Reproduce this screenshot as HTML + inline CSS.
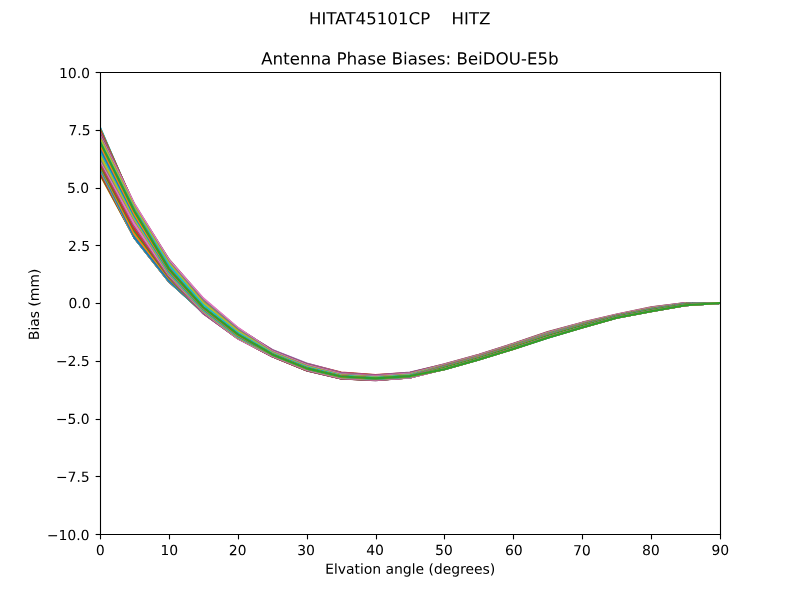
<!DOCTYPE html>
<html><head><meta charset="utf-8"><style>html,body{margin:0;padding:0;background:#fff;overflow:hidden;font-family:"Liberation Sans",sans-serif}svg{display:block}</style></head><body>
<svg width="800" height="600" viewBox="0 0 576 432" version="1.1">
<defs>
<style type="text/css">*{stroke-linejoin: round; stroke-linecap: butt}</style>
</defs>
<g id="figure_1">
<g id="patch_1">
<path d="M 0 432 L 576 432 L 576 0 L 0 0 z
" style="fill: #ffffff"/>
</g>
<g id="axes_1">
<g id="patch_2">
<path d="M 72 384.48 L 518.4 384.48 L 518.4 51.84 L 72 51.84 z
" style="fill: #ffffff"/>
</g>
<g id="matplotlib.axis_1">
<g id="xtick_1">
<g id="line2d_1">
<defs>
<path id="m1504cfccaf" d="M 0 0 L 0 3.5 " style="stroke: #000000; stroke-width: 0.8"/>
</defs>
<g>
<use href="#m1504cfccaf" x="72.3600" y="384.8400" style="stroke: #000000; stroke-width: 0.8"/>
</g>
</g>
<g id="text_1">
<!-- 0 -->
<g transform="translate(69.0347 399.6544) scale(0.1 -0.1)">
<defs>
<path id="DejaVuSans-30" d="M 2034 4250 Q 1547 4250 1301 3770 Q 1056 3291 1056 2328 Q 1056 1369 1301 889 Q 1547 409 2034 409 Q 2525 409 2770 889 Q 3016 1369 3016 2328 Q 3016 3291 2770 3770 Q 2525 4250 2034 4250 z
M 2034 4750 Q 2819 4750 3233 4129 Q 3647 3509 3647 2328 Q 3647 1150 3233 529 Q 2819 -91 2034 -91 Q 1250 -91 836 529 Q 422 1150 422 2328 Q 422 3509 836 4129 Q 1250 4750 2034 4750 z
" transform="scale(0.015625)"/>
</defs>
<use href="#DejaVuSans-30"/>
</g>
</g>
</g>
<g id="xtick_2">
<g id="line2d_2">
<g>
<use href="#m1504cfccaf" x="122.0400" y="384.8400" style="stroke: #000000; stroke-width: 0.8"/>
</g>
</g>
<g id="text_2">
<!-- 10 -->
<g transform="translate(115.5255 399.6544) scale(0.1 -0.1)">
<defs>
<path id="DejaVuSans-31" d="M 794 531 L 1825 531 L 1825 4091 L 703 3866 L 703 4441 L 1819 4666 L 2450 4666 L 2450 531 L 3481 531 L 3481 0 L 794 0 L 794 531 z
" transform="scale(0.015625)"/>
</defs>
<use href="#DejaVuSans-31"/>
<use href="#DejaVuSans-30" transform="translate(63.623047 0)"/>
</g>
</g>
</g>
<g id="xtick_3">
<g id="line2d_3">
<g>
<use href="#m1504cfccaf" x="171.7200" y="384.8400" style="stroke: #000000; stroke-width: 0.8"/>
</g>
</g>
<g id="text_3">
<!-- 20 -->
<g transform="translate(164.7655 399.7264) scale(0.1 -0.1)">
<defs>
<path id="DejaVuSans-32" d="M 1228 531 L 3431 531 L 3431 0 L 469 0 L 469 531 Q 828 903 1448 1529 Q 2069 2156 2228 2338 Q 2531 2678 2651 2914 Q 2772 3150 2772 3378 Q 2772 3750 2511 3984 Q 2250 4219 1831 4219 Q 1534 4219 1204 4116 Q 875 4013 500 3803 L 500 4441 Q 881 4594 1212 4672 Q 1544 4750 1819 4750 Q 2544 4750 2975 4387 Q 3406 4025 3406 3419 Q 3406 3131 3298 2873 Q 3191 2616 2906 2266 Q 2828 2175 2409 1742 Q 1991 1309 1228 531 z
" transform="scale(0.015625)"/>
</defs>
<use href="#DejaVuSans-32"/>
<use href="#DejaVuSans-30" transform="translate(63.623047 0)"/>
</g>
</g>
</g>
<g id="xtick_4">
<g id="line2d_4">
<g>
<use href="#m1504cfccaf" x="221.4000" y="384.8400" style="stroke: #000000; stroke-width: 0.8"/>
</g>
</g>
<g id="text_4">
<!-- 30 -->
<g transform="translate(214.0055 399.6544) scale(0.1 -0.1)">
<defs>
<path id="DejaVuSans-33" d="M 2597 2516 Q 3050 2419 3304 2112 Q 3559 1806 3559 1356 Q 3559 666 3084 287 Q 2609 -91 1734 -91 Q 1441 -91 1130 -33 Q 819 25 488 141 L 488 750 Q 750 597 1062 519 Q 1375 441 1716 441 Q 2309 441 2620 675 Q 2931 909 2931 1356 Q 2931 1769 2642 2001 Q 2353 2234 1838 2234 L 1294 2234 L 1294 2753 L 1863 2753 Q 2328 2753 2575 2939 Q 2822 3125 2822 3475 Q 2822 3834 2567 4026 Q 2313 4219 1838 4219 Q 1578 4219 1281 4162 Q 984 4106 628 3988 L 628 4550 Q 988 4650 1302 4700 Q 1616 4750 1894 4750 Q 2613 4750 3031 4423 Q 3450 4097 3450 3541 Q 3450 3153 3228 2886 Q 3006 2619 2597 2516 z
" transform="scale(0.015625)"/>
</defs>
<use href="#DejaVuSans-33"/>
<use href="#DejaVuSans-30" transform="translate(63.623047 0)"/>
</g>
</g>
</g>
<g id="xtick_5">
<g id="line2d_5">
<g>
<use href="#m1504cfccaf" x="271.0800" y="384.8400" style="stroke: #000000; stroke-width: 0.8"/>
</g>
</g>
<g id="text_5">
<!-- 40 -->
<g transform="translate(263.6775 399.5104) scale(0.1 -0.1)">
<defs>
<path id="DejaVuSans-34" d="M 2419 4116 L 825 1625 L 2419 1625 L 2419 4116 z
M 2253 4666 L 3047 4666 L 3047 1625 L 3713 1625 L 3713 1100 L 3047 1100 L 3047 0 L 2419 0 L 2419 1100 L 313 1100 L 313 1709 L 2253 4666 z
" transform="scale(0.015625)"/>
</defs>
<use href="#DejaVuSans-34"/>
<use href="#DejaVuSans-30" transform="translate(63.623047 0)"/>
</g>
</g>
</g>
<g id="xtick_6">
<g id="line2d_6">
<g>
<use href="#m1504cfccaf" x="320.0400" y="384.8400" style="stroke: #000000; stroke-width: 0.8"/>
</g>
</g>
<g id="text_6">
<!-- 50 -->
<g transform="translate(313.2775 399.5824) scale(0.1 -0.1)">
<defs>
<path id="DejaVuSans-35" d="M 691 4666 L 3169 4666 L 3169 4134 L 1269 4134 L 1269 2991 Q 1406 3038 1543 3061 Q 1681 3084 1819 3084 Q 2600 3084 3056 2656 Q 3513 2228 3513 1497 Q 3513 744 3044 326 Q 2575 -91 1722 -91 Q 1428 -91 1123 -41 Q 819 9 494 109 L 494 744 Q 775 591 1075 516 Q 1375 441 1709 441 Q 2250 441 2565 725 Q 2881 1009 2881 1497 Q 2881 1984 2565 2268 Q 2250 2553 1709 2553 Q 1456 2553 1204 2497 Q 953 2441 691 2322 L 691 4666 z
" transform="scale(0.015625)"/>
</defs>
<use href="#DejaVuSans-35"/>
<use href="#DejaVuSans-30" transform="translate(63.623047 0)"/>
</g>
</g>
</g>
<g id="xtick_7">
<g id="line2d_7">
<g>
<use href="#m1504cfccaf" x="369.7200" y="384.8400" style="stroke: #000000; stroke-width: 0.8"/>
</g>
</g>
<g id="text_7">
<!-- 60 -->
<g transform="translate(363.5975 399.6544) scale(0.1 -0.1)">
<defs>
<path id="DejaVuSans-36" d="M 2113 2584 Q 1688 2584 1439 2293 Q 1191 2003 1191 1497 Q 1191 994 1439 701 Q 1688 409 2113 409 Q 2538 409 2786 701 Q 3034 994 3034 1497 Q 3034 2003 2786 2293 Q 2538 2584 2113 2584 z
M 3366 4563 L 3366 3988 Q 3128 4100 2886 4159 Q 2644 4219 2406 4219 Q 1781 4219 1451 3797 Q 1122 3375 1075 2522 Q 1259 2794 1537 2939 Q 1816 3084 2150 3084 Q 2853 3084 3261 2657 Q 3669 2231 3669 1497 Q 3669 778 3244 343 Q 2819 -91 2113 -91 Q 1303 -91 875 529 Q 447 1150 447 2328 Q 447 3434 972 4092 Q 1497 4750 2381 4750 Q 2619 4750 2861 4703 Q 3103 4656 3366 4563 z
" transform="scale(0.015625)"/>
</defs>
<use href="#DejaVuSans-36"/>
<use href="#DejaVuSans-30" transform="translate(63.623047 0)"/>
</g>
</g>
</g>
<g id="xtick_8">
<g id="line2d_8">
<g>
<use href="#m1504cfccaf" x="419.4000" y="384.8400" style="stroke: #000000; stroke-width: 0.8"/>
</g>
</g>
<g id="text_8">
<!-- 70 -->
<g transform="translate(412.6215 399.7984) scale(0.1 -0.1)">
<defs>
<path id="DejaVuSans-37" d="M 525 4666 L 3525 4666 L 3525 4397 L 1831 0 L 1172 0 L 2766 4134 L 525 4134 L 525 4666 z
" transform="scale(0.015625)"/>
</defs>
<use href="#DejaVuSans-37"/>
<use href="#DejaVuSans-30" transform="translate(63.623047 0)"/>
</g>
</g>
</g>
<g id="xtick_9">
<g id="line2d_9">
<g>
<use href="#m1504cfccaf" x="469.0800" y="384.8400" style="stroke: #000000; stroke-width: 0.8"/>
</g>
</g>
<g id="text_9">
<!-- 80 -->
<g transform="translate(462.2935 399.6544) scale(0.1 -0.1)">
<defs>
<path id="DejaVuSans-38" d="M 2034 2216 Q 1584 2216 1326 1975 Q 1069 1734 1069 1313 Q 1069 891 1326 650 Q 1584 409 2034 409 Q 2484 409 2743 651 Q 3003 894 3003 1313 Q 3003 1734 2745 1975 Q 2488 2216 2034 2216 z
M 1403 2484 Q 997 2584 770 2862 Q 544 3141 544 3541 Q 544 4100 942 4425 Q 1341 4750 2034 4750 Q 2731 4750 3128 4425 Q 3525 4100 3525 3541 Q 3525 3141 3298 2862 Q 3072 2584 2669 2484 Q 3125 2378 3379 2068 Q 3634 1759 3634 1313 Q 3634 634 3220 271 Q 2806 -91 2034 -91 Q 1263 -91 848 271 Q 434 634 434 1313 Q 434 1759 690 2068 Q 947 2378 1403 2484 z
M 1172 3481 Q 1172 3119 1398 2916 Q 1625 2713 2034 2713 Q 2441 2713 2670 2916 Q 2900 3119 2900 3481 Q 2900 3844 2670 4047 Q 2441 4250 2034 4250 Q 1625 4250 1398 4047 Q 1172 3844 1172 3481 z
" transform="scale(0.015625)"/>
</defs>
<use href="#DejaVuSans-38"/>
<use href="#DejaVuSans-30" transform="translate(63.623047 0)"/>
</g>
</g>
</g>
<g id="xtick_10">
<g id="line2d_10">
<g>
<use href="#m1504cfccaf" x="518.7600" y="384.8400" style="stroke: #000000; stroke-width: 0.8"/>
</g>
</g>
<g id="text_10">
<!-- 90 -->
<g transform="translate(512.2535 399.5824) scale(0.1 -0.1)">
<defs>
<path id="DejaVuSans-39" d="M 703 97 L 703 672 Q 941 559 1184 500 Q 1428 441 1663 441 Q 2288 441 2617 861 Q 2947 1281 2994 2138 Q 2813 1869 2534 1725 Q 2256 1581 1919 1581 Q 1219 1581 811 2004 Q 403 2428 403 3163 Q 403 3881 828 4315 Q 1253 4750 1959 4750 Q 2769 4750 3195 4129 Q 3622 3509 3622 2328 Q 3622 1225 3098 567 Q 2575 -91 1691 -91 Q 1453 -91 1209 -44 Q 966 3 703 97 z
M 1959 2075 Q 2384 2075 2632 2365 Q 2881 2656 2881 3163 Q 2881 3666 2632 3958 Q 2384 4250 1959 4250 Q 1534 4250 1286 3958 Q 1038 3666 1038 3163 Q 1038 2656 1286 2365 Q 1534 2075 1959 2075 z
" transform="scale(0.015625)"/>
</defs>
<use href="#DejaVuSans-39"/>
<use href="#DejaVuSans-30" transform="translate(63.623047 0)"/>
</g>
</g>
</g>
<g id="text_11">
<!-- Elvation angle (degrees) -->
<g transform="translate(234.1167 413.1166) scale(0.1 -0.1)">
<defs>
<path id="DejaVuSans-45" d="M 628 4666 L 3578 4666 L 3578 4134 L 1259 4134 L 1259 2753 L 3481 2753 L 3481 2222 L 1259 2222 L 1259 531 L 3634 531 L 3634 0 L 628 0 L 628 4666 z
" transform="scale(0.015625)"/>
<path id="DejaVuSans-6c" d="M 603 4863 L 1178 4863 L 1178 0 L 603 0 L 603 4863 z
" transform="scale(0.015625)"/>
<path id="DejaVuSans-76" d="M 191 3500 L 800 3500 L 1894 563 L 2988 3500 L 3597 3500 L 2284 0 L 1503 0 L 191 3500 z
" transform="scale(0.015625)"/>
<path id="DejaVuSans-61" d="M 2194 1759 Q 1497 1759 1228 1600 Q 959 1441 959 1056 Q 959 750 1161 570 Q 1363 391 1709 391 Q 2188 391 2477 730 Q 2766 1069 2766 1631 L 2766 1759 L 2194 1759 z
M 3341 1997 L 3341 0 L 2766 0 L 2766 531 Q 2569 213 2275 61 Q 1981 -91 1556 -91 Q 1019 -91 701 211 Q 384 513 384 1019 Q 384 1609 779 1909 Q 1175 2209 1959 2209 L 2766 2209 L 2766 2266 Q 2766 2663 2505 2880 Q 2244 3097 1772 3097 Q 1472 3097 1187 3025 Q 903 2953 641 2809 L 641 3341 Q 956 3463 1253 3523 Q 1550 3584 1831 3584 Q 2591 3584 2966 3190 Q 3341 2797 3341 1997 z
" transform="scale(0.015625)"/>
<path id="DejaVuSans-74" d="M 1172 4494 L 1172 3500 L 2356 3500 L 2356 3053 L 1172 3053 L 1172 1153 Q 1172 725 1289 603 Q 1406 481 1766 481 L 2356 481 L 2356 0 L 1766 0 Q 1100 0 847 248 Q 594 497 594 1153 L 594 3053 L 172 3053 L 172 3500 L 594 3500 L 594 4494 L 1172 4494 z
" transform="scale(0.015625)"/>
<path id="DejaVuSans-69" d="M 603 3500 L 1178 3500 L 1178 0 L 603 0 L 603 3500 z
M 603 4863 L 1178 4863 L 1178 4134 L 603 4134 L 603 4863 z
" transform="scale(0.015625)"/>
<path id="DejaVuSans-6f" d="M 1959 3097 Q 1497 3097 1228 2736 Q 959 2375 959 1747 Q 959 1119 1226 758 Q 1494 397 1959 397 Q 2419 397 2687 759 Q 2956 1122 2956 1747 Q 2956 2369 2687 2733 Q 2419 3097 1959 3097 z
M 1959 3584 Q 2709 3584 3137 3096 Q 3566 2609 3566 1747 Q 3566 888 3137 398 Q 2709 -91 1959 -91 Q 1206 -91 779 398 Q 353 888 353 1747 Q 353 2609 779 3096 Q 1206 3584 1959 3584 z
" transform="scale(0.015625)"/>
<path id="DejaVuSans-6e" d="M 3513 2113 L 3513 0 L 2938 0 L 2938 2094 Q 2938 2591 2744 2837 Q 2550 3084 2163 3084 Q 1697 3084 1428 2787 Q 1159 2491 1159 1978 L 1159 0 L 581 0 L 581 3500 L 1159 3500 L 1159 2956 Q 1366 3272 1645 3428 Q 1925 3584 2291 3584 Q 2894 3584 3203 3211 Q 3513 2838 3513 2113 z
" transform="scale(0.015625)"/>
<path id="DejaVuSans-20" transform="scale(0.015625)"/>
<path id="DejaVuSans-67" d="M 2906 1791 Q 2906 2416 2648 2759 Q 2391 3103 1925 3103 Q 1463 3103 1205 2759 Q 947 2416 947 1791 Q 947 1169 1205 825 Q 1463 481 1925 481 Q 2391 481 2648 825 Q 2906 1169 2906 1791 z
M 3481 434 Q 3481 -459 3084 -895 Q 2688 -1331 1869 -1331 Q 1566 -1331 1297 -1286 Q 1028 -1241 775 -1147 L 775 -588 Q 1028 -725 1275 -790 Q 1522 -856 1778 -856 Q 2344 -856 2625 -561 Q 2906 -266 2906 331 L 2906 616 Q 2728 306 2450 153 Q 2172 0 1784 0 Q 1141 0 747 490 Q 353 981 353 1791 Q 353 2603 747 3093 Q 1141 3584 1784 3584 Q 2172 3584 2450 3431 Q 2728 3278 2906 2969 L 2906 3500 L 3481 3500 L 3481 434 z
" transform="scale(0.015625)"/>
<path id="DejaVuSans-65" d="M 3597 1894 L 3597 1613 L 953 1613 Q 991 1019 1311 708 Q 1631 397 2203 397 Q 2534 397 2845 478 Q 3156 559 3463 722 L 3463 178 Q 3153 47 2828 -22 Q 2503 -91 2169 -91 Q 1331 -91 842 396 Q 353 884 353 1716 Q 353 2575 817 3079 Q 1281 3584 2069 3584 Q 2775 3584 3186 3129 Q 3597 2675 3597 1894 z
M 3022 2063 Q 3016 2534 2758 2815 Q 2500 3097 2075 3097 Q 1594 3097 1305 2825 Q 1016 2553 972 2059 L 3022 2063 z
" transform="scale(0.015625)"/>
<path id="DejaVuSans-28" d="M 1984 4856 Q 1566 4138 1362 3434 Q 1159 2731 1159 2009 Q 1159 1288 1364 580 Q 1569 -128 1984 -844 L 1484 -844 Q 1016 -109 783 600 Q 550 1309 550 2009 Q 550 2706 781 3412 Q 1013 4119 1484 4856 L 1984 4856 z
" transform="scale(0.015625)"/>
<path id="DejaVuSans-64" d="M 2906 2969 L 2906 4863 L 3481 4863 L 3481 0 L 2906 0 L 2906 525 Q 2725 213 2448 61 Q 2172 -91 1784 -91 Q 1150 -91 751 415 Q 353 922 353 1747 Q 353 2572 751 3078 Q 1150 3584 1784 3584 Q 2172 3584 2448 3432 Q 2725 3281 2906 2969 z
M 947 1747 Q 947 1113 1208 752 Q 1469 391 1925 391 Q 2381 391 2643 752 Q 2906 1113 2906 1747 Q 2906 2381 2643 2742 Q 2381 3103 1925 3103 Q 1469 3103 1208 2742 Q 947 2381 947 1747 z
" transform="scale(0.015625)"/>
<path id="DejaVuSans-72" d="M 2631 2963 Q 2534 3019 2420 3045 Q 2306 3072 2169 3072 Q 1681 3072 1420 2755 Q 1159 2438 1159 1844 L 1159 0 L 581 0 L 581 3500 L 1159 3500 L 1159 2956 Q 1341 3275 1631 3429 Q 1922 3584 2338 3584 Q 2397 3584 2469 3576 Q 2541 3569 2628 3553 L 2631 2963 z
" transform="scale(0.015625)"/>
<path id="DejaVuSans-73" d="M 2834 3397 L 2834 2853 Q 2591 2978 2328 3040 Q 2066 3103 1784 3103 Q 1356 3103 1142 2972 Q 928 2841 928 2578 Q 928 2378 1081 2264 Q 1234 2150 1697 2047 L 1894 2003 Q 2506 1872 2764 1633 Q 3022 1394 3022 966 Q 3022 478 2636 193 Q 2250 -91 1575 -91 Q 1294 -91 989 -36 Q 684 19 347 128 L 347 722 Q 666 556 975 473 Q 1284 391 1588 391 Q 1994 391 2212 530 Q 2431 669 2431 922 Q 2431 1156 2273 1281 Q 2116 1406 1581 1522 L 1381 1569 Q 847 1681 609 1914 Q 372 2147 372 2553 Q 372 3047 722 3315 Q 1072 3584 1716 3584 Q 2034 3584 2315 3537 Q 2597 3491 2834 3397 z
" transform="scale(0.015625)"/>
<path id="DejaVuSans-29" d="M 513 4856 L 1013 4856 Q 1481 4119 1714 3412 Q 1947 2706 1947 2009 Q 1947 1309 1714 600 Q 1481 -109 1013 -844 L 513 -844 Q 928 -128 1133 580 Q 1338 1288 1338 2009 Q 1338 2731 1133 3434 Q 928 4138 513 4856 z
" transform="scale(0.015625)"/>
</defs>
<use href="#DejaVuSans-45"/>
<use href="#DejaVuSans-6c" transform="translate(63.183594 0)"/>
<use href="#DejaVuSans-76" transform="translate(90.966797 0)"/>
<use href="#DejaVuSans-61" transform="translate(150.146484 0)"/>
<use href="#DejaVuSans-74" transform="translate(211.425781 0)"/>
<use href="#DejaVuSans-69" transform="translate(250.634766 0)"/>
<use href="#DejaVuSans-6f" transform="translate(278.417969 0)"/>
<use href="#DejaVuSans-6e" transform="translate(339.599609 0)"/>
<use href="#DejaVuSans-20" transform="translate(402.978516 0)"/>
<use href="#DejaVuSans-61" transform="translate(434.765625 0)"/>
<use href="#DejaVuSans-6e" transform="translate(496.044922 0)"/>
<use href="#DejaVuSans-67" transform="translate(559.423828 0)"/>
<use href="#DejaVuSans-6c" transform="translate(622.900391 0)"/>
<use href="#DejaVuSans-65" transform="translate(650.683594 0)"/>
<use href="#DejaVuSans-20" transform="translate(712.207031 0)"/>
<use href="#DejaVuSans-28" transform="translate(743.994141 0)"/>
<use href="#DejaVuSans-64" transform="translate(783.007812 0)"/>
<use href="#DejaVuSans-65" transform="translate(846.484375 0)"/>
<use href="#DejaVuSans-67" transform="translate(908.007812 0)"/>
<use href="#DejaVuSans-72" transform="translate(971.484375 0)"/>
<use href="#DejaVuSans-65" transform="translate(1010.347656 0)"/>
<use href="#DejaVuSans-65" transform="translate(1071.871094 0)"/>
<use href="#DejaVuSans-73" transform="translate(1133.394531 0)"/>
<use href="#DejaVuSans-29" transform="translate(1185.494141 0)"/>
</g>
</g>
</g>
<g id="matplotlib.axis_2">
<g id="ytick_1">
<g id="line2d_11">
<defs>
<path id="m5d545ce8f8" d="M 0 0 L -3.5 0 " style="stroke: #000000; stroke-width: 0.8"/>
</defs>
<g>
<use href="#m5d545ce8f8" x="72.3600" y="384.8400" style="stroke: #000000; stroke-width: 0.8"/>
</g>
</g>
<g id="text_12">
<!-- −10.0 -->
<g transform="translate(33.7787 388.8552) scale(0.1 -0.1)">
<defs>
<path id="DejaVuSans-2212" d="M 678 2272 L 4684 2272 L 4684 1741 L 678 1741 L 678 2272 z
" transform="scale(0.015625)"/>
<path id="DejaVuSans-2e" d="M 684 794 L 1344 794 L 1344 0 L 684 0 L 684 794 z
" transform="scale(0.015625)"/>
</defs>
<use href="#DejaVuSans-2212"/>
<use href="#DejaVuSans-31" transform="translate(83.789062 0)"/>
<use href="#DejaVuSans-30" transform="translate(147.412109 0)"/>
<use href="#DejaVuSans-2e" transform="translate(211.035156 0)"/>
<use href="#DejaVuSans-30" transform="translate(242.822266 0)"/>
</g>
</g>
</g>
<g id="ytick_2">
<g id="line2d_12">
<g>
<use href="#m5d545ce8f8" x="72.3600" y="343.0800" style="stroke: #000000; stroke-width: 0.8"/>
</g>
</g>
<g id="text_13">
<!-- −7.5 -->
<g transform="translate(40.2852 346.9152) scale(0.1 -0.1)">
<use href="#DejaVuSans-2212"/>
<use href="#DejaVuSans-37" transform="translate(83.789062 0)"/>
<use href="#DejaVuSans-2e" transform="translate(147.412109 0)"/>
<use href="#DejaVuSans-35" transform="translate(179.199219 0)"/>
</g>
</g>
</g>
<g id="ytick_3">
<g id="line2d_13">
<g>
<use href="#m5d545ce8f8" x="72.3600" y="302.0400" style="stroke: #000000; stroke-width: 0.8"/>
</g>
</g>
<g id="text_14">
<!-- −5.0 -->
<g transform="translate(40.2132 305.1912) scale(0.1 -0.1)">
<use href="#DejaVuSans-2212"/>
<use href="#DejaVuSans-35" transform="translate(83.789062 0)"/>
<use href="#DejaVuSans-2e" transform="translate(147.412109 0)"/>
<use href="#DejaVuSans-30" transform="translate(179.199219 0)"/>
</g>
</g>
</g>
<g id="ytick_4">
<g id="line2d_14">
<g>
<use href="#m5d545ce8f8" x="72.3600" y="260.2800" style="stroke: #000000; stroke-width: 0.8"/>
</g>
</g>
<g id="text_15">
<!-- −2.5 -->
<g transform="translate(40.2852 263.5392) scale(0.1 -0.1)">
<use href="#DejaVuSans-2212"/>
<use href="#DejaVuSans-32" transform="translate(83.789062 0)"/>
<use href="#DejaVuSans-2e" transform="translate(147.412109 0)"/>
<use href="#DejaVuSans-35" transform="translate(179.199219 0)"/>
</g>
</g>
</g>
<g id="ytick_5">
<g id="line2d_15">
<g>
<use href="#m5d545ce8f8" x="72.3600" y="218.5200" style="stroke: #000000; stroke-width: 0.8"/>
</g>
</g>
<g id="text_16">
<!-- 0.0 -->
<g transform="translate(49.3129 221.8152) scale(0.1 -0.1)">
<use href="#DejaVuSans-30"/>
<use href="#DejaVuSans-2e" transform="translate(63.623047 0)"/>
<use href="#DejaVuSans-30" transform="translate(95.410156 0)"/>
</g>
</g>
</g>
<g id="ytick_6">
<g id="line2d_16">
<g>
<use href="#m5d545ce8f8" x="72.3600" y="176.7600" style="stroke: #000000; stroke-width: 0.8"/>
</g>
</g>
<g id="text_17">
<!-- 2.5 -->
<g transform="translate(48.9529 180.7392) scale(0.1 -0.1)">
<use href="#DejaVuSans-32"/>
<use href="#DejaVuSans-2e" transform="translate(63.623047 0)"/>
<use href="#DejaVuSans-35" transform="translate(95.410156 0)"/>
</g>
</g>
</g>
<g id="ytick_7">
<g id="line2d_17">
<g>
<use href="#m5d545ce8f8" x="72.3600" y="135.7200" style="stroke: #000000; stroke-width: 0.8"/>
</g>
</g>
<g id="text_18">
<!-- 5.0 -->
<g transform="translate(48.2329 138.8712) scale(0.1 -0.1)">
<use href="#DejaVuSans-35"/>
<use href="#DejaVuSans-2e" transform="translate(63.623047 0)"/>
<use href="#DejaVuSans-30" transform="translate(95.410156 0)"/>
</g>
</g>
</g>
<g id="ytick_8">
<g id="line2d_18">
<g>
<use href="#m5d545ce8f8" x="72.3600" y="93.9600" style="stroke: #000000; stroke-width: 0.8"/>
</g>
</g>
<g id="text_19">
<!-- 7.5 -->
<g transform="translate(49.3129 97.2912) scale(0.1 -0.1)">
<use href="#DejaVuSans-37"/>
<use href="#DejaVuSans-2e" transform="translate(63.623047 0)"/>
<use href="#DejaVuSans-35" transform="translate(95.410156 0)"/>
</g>
</g>
</g>
<g id="ytick_9">
<g id="line2d_19">
<g>
<use href="#m5d545ce8f8" x="72.3600" y="52.2000" style="stroke: #000000; stroke-width: 0.8"/>
</g>
</g>
<g id="text_20">
<!-- 10.0 -->
<g transform="translate(42.5184 56.2152) scale(0.1 -0.1)">
<use href="#DejaVuSans-31"/>
<use href="#DejaVuSans-30" transform="translate(63.623047 0)"/>
<use href="#DejaVuSans-2e" transform="translate(127.246094 0)"/>
<use href="#DejaVuSans-30" transform="translate(159.033203 0)"/>
</g>
</g>
</g>
<g id="text_21">
<!-- Bias (mm) -->
<g transform="translate(27.9870 244.8875) rotate(-90) scale(0.1 -0.1)">
<defs>
<path id="DejaVuSans-42" d="M 1259 2228 L 1259 519 L 2272 519 Q 2781 519 3026 730 Q 3272 941 3272 1375 Q 3272 1813 3026 2020 Q 2781 2228 2272 2228 L 1259 2228 z
M 1259 4147 L 1259 2741 L 2194 2741 Q 2656 2741 2882 2914 Q 3109 3088 3109 3444 Q 3109 3797 2882 3972 Q 2656 4147 2194 4147 L 1259 4147 z
M 628 4666 L 2241 4666 Q 2963 4666 3353 4366 Q 3744 4066 3744 3513 Q 3744 3084 3544 2831 Q 3344 2578 2956 2516 Q 3422 2416 3680 2098 Q 3938 1781 3938 1306 Q 3938 681 3513 340 Q 3088 0 2303 0 L 628 0 L 628 4666 z
" transform="scale(0.015625)"/>
<path id="DejaVuSans-6d" d="M 3328 2828 Q 3544 3216 3844 3400 Q 4144 3584 4550 3584 Q 5097 3584 5394 3201 Q 5691 2819 5691 2113 L 5691 0 L 5113 0 L 5113 2094 Q 5113 2597 4934 2840 Q 4756 3084 4391 3084 Q 3944 3084 3684 2787 Q 3425 2491 3425 1978 L 3425 0 L 2847 0 L 2847 2094 Q 2847 2600 2669 2842 Q 2491 3084 2119 3084 Q 1678 3084 1418 2786 Q 1159 2488 1159 1978 L 1159 0 L 581 0 L 581 3500 L 1159 3500 L 1159 2956 Q 1356 3278 1631 3431 Q 1906 3584 2284 3584 Q 2666 3584 2933 3390 Q 3200 3197 3328 2828 z
" transform="scale(0.015625)"/>
</defs>
<use href="#DejaVuSans-42"/>
<use href="#DejaVuSans-69" transform="translate(68.603516 0)"/>
<use href="#DejaVuSans-61" transform="translate(96.386719 0)"/>
<use href="#DejaVuSans-73" transform="translate(157.666016 0)"/>
<use href="#DejaVuSans-20" transform="translate(209.765625 0)"/>
<use href="#DejaVuSans-28" transform="translate(241.552734 0)"/>
<use href="#DejaVuSans-6d" transform="translate(280.566406 0)"/>
<use href="#DejaVuSans-6d" transform="translate(377.978516 0)"/>
<use href="#DejaVuSans-29" transform="translate(475.390625 0)"/>
</g>
</g>
</g>
<g id="line2d_20">
<path d="M 72 102.143314 L 96.8 152.225358 L 121.6 193.755312 L 146.4 221.369976 L 171.2 240.751246 L 196 255.182832 L 220.8 265.22856 L 245.6 271.033128 L 270.4 272.430216 L 295.2 270.783648 L 320 265.89384 L 344.8 258.9084 L 369.6 251.25768 L 394.4 243.108 L 419.2 235.78992 L 444 228.80448 L 468.8 224.14752 L 493.6 219.8232 L 518.4 218.16 " clip-path="url(#p4308238263)" style="fill: none; stroke: #1f77b4; stroke-width: 1.5; stroke-linecap: square"/>
</g>
<g id="line2d_21">
<path d="M 72 100.758446 L 96.8 151.569068 L 121.6 193.067856 L 146.4 220.961452 L 171.2 240.451558 L 196 254.949984 L 220.8 264.97908 L 245.6 270.816912 L 270.4 272.247264 L 295.2 270.600696 L 320 265.649904 L 344.8 258.675552 L 369.6 251.002656 L 394.4 242.841888 L 419.2 235.557072 L 444 228.649248 L 468.8 223.959024 L 493.6 219.71232 L 518.4 218.16 " clip-path="url(#p4308238263)" style="fill: none; stroke: #ff7f0e; stroke-width: 1.5; stroke-linecap: square"/>
</g>
<g id="line2d_22">
<path d="M 72 99.620875 L 96.8 151.264362 L 121.6 192.62592 L 146.4 220.552929 L 171.2 240.15187 L 196 254.717136 L 220.8 264.7296 L 245.6 270.600696 L 270.4 272.064312 L 295.2 270.417744 L 320 265.405968 L 344.8 258.442704 L 369.6 250.747632 L 394.4 242.575776 L 419.2 235.324224 L 444 228.494016 L 468.8 223.770528 L 493.6 219.60144 L 518.4 218.16 " clip-path="url(#p4308238263)" style="fill: none; stroke: #2ca02c; stroke-width: 1.5; stroke-linecap: square"/>
</g>
<g id="line2d_23">
<path d="M 72 98.483304 L 96.8 150.959656 L 121.6 192.183984 L 146.4 220.144405 L 171.2 239.852182 L 196 254.484288 L 220.8 264.48012 L 245.6 270.38448 L 270.4 271.88136 L 295.2 270.234792 L 320 265.162032 L 344.8 258.209856 L 369.6 250.492608 L 394.4 242.309664 L 419.2 235.091376 L 444 228.338784 L 468.8 223.582032 L 493.6 219.49056 L 518.4 218.16 " clip-path="url(#p4308238263)" style="fill: none; stroke: #d62728; stroke-width: 1.5; stroke-linecap: square"/>
</g>
<g id="line2d_24">
<path d="M 72 97.345734 L 96.8 150.65495 L 121.6 191.742048 L 146.4 219.735882 L 171.2 239.552494 L 196 254.25144 L 220.8 264.23064 L 245.6 270.168264 L 270.4 271.698408 L 295.2 270.05184 L 320 264.918096 L 344.8 257.977008 L 369.6 250.237584 L 394.4 242.043552 L 419.2 234.858528 L 444 228.183552 L 468.8 223.393536 L 493.6 219.37968 L 518.4 218.16 " clip-path="url(#p4308238263)" style="fill: none; stroke: #9467bd; stroke-width: 1.5; stroke-linecap: square"/>
</g>
<g id="line2d_25">
<path d="M 72 96.208163 L 96.8 150.350244 L 121.6 191.300112 L 146.4 219.327358 L 171.2 239.252806 L 196 254.018592 L 220.8 263.98116 L 245.6 269.952048 L 270.4 271.515456 L 295.2 269.868888 L 320 264.67416 L 344.8 257.74416 L 369.6 249.98256 L 394.4 241.77744 L 419.2 234.62568 L 444 228.02832 L 468.8 223.20504 L 493.6 219.2688 L 518.4 218.16 " clip-path="url(#p4308238263)" style="fill: none; stroke: #8c564b; stroke-width: 1.5; stroke-linecap: square"/>
</g>
<g id="line2d_26">
<path d="M 72 95.070593 L 96.8 150.045538 L 121.6 190.858176 L 146.4 218.918835 L 171.2 238.953118 L 196 253.785744 L 220.8 263.73168 L 245.6 269.735832 L 270.4 271.332504 L 295.2 269.685936 L 320 264.430224 L 344.8 257.511312 L 369.6 249.727536 L 394.4 241.511328 L 419.2 234.392832 L 444 227.873088 L 468.8 223.016544 L 493.6 219.15792 L 518.4 218.16 " clip-path="url(#p4308238263)" style="fill: none; stroke: #e377c2; stroke-width: 1.5; stroke-linecap: square"/>
</g>
<g id="line2d_27">
<path d="M 72 93.933022 L 96.8 149.740832 L 121.6 190.41624 L 146.4 218.510311 L 171.2 238.653431 L 196 253.552896 L 220.8 263.4822 L 245.6 269.519616 L 270.4 271.149552 L 295.2 269.502984 L 320 264.186288 L 344.8 257.278464 L 369.6 249.472512 L 394.4 241.245216 L 419.2 234.159984 L 444 227.717856 L 468.8 222.828048 L 493.6 219.04704 L 518.4 218.16 " clip-path="url(#p4308238263)" style="fill: none; stroke: #7f7f7f; stroke-width: 1.5; stroke-linecap: square"/>
</g>
<g id="line2d_28">
<path d="M 72 92.795451 L 96.8 149.436126 L 121.6 189.974304 L 146.4 218.101788 L 171.2 238.353743 L 196 253.320048 L 220.8 263.23272 L 245.6 269.3034 L 270.4 270.9666 L 295.2 269.320032 L 320 263.942352 L 344.8 257.045616 L 369.6 249.217488 L 394.4 240.979104 L 419.2 233.927136 L 444 227.562624 L 468.8 222.639552 L 493.6 218.93616 L 518.4 218.16 " clip-path="url(#p4308238263)" style="fill: none; stroke: #bcbd22; stroke-width: 1.5; stroke-linecap: square"/>
</g>
<g id="line2d_29">
<path d="M 72 91.7568 L 96.8 149.131421 L 121.6 189.532368 L 146.4 217.693264 L 171.2 238.054055 L 196 253.0872 L 220.8 262.98324 L 245.6 269.087184 L 270.4 270.783648 L 295.2 269.13708 L 320 263.698416 L 344.8 256.812768 L 369.6 248.962464 L 394.4 240.712992 L 419.2 233.694288 L 444 227.407392 L 468.8 222.451056 L 493.6 218.82528 L 518.4 218.16 " clip-path="url(#p4308238263)" style="fill: none; stroke: #17becf; stroke-width: 1.5; stroke-linecap: square"/>
</g>
<g id="line2d_30">
<path d="M 72 92.310747 L 96.8 148.826715 L 121.6 189.090432 L 146.4 217.284741 L 171.2 237.754367 L 196 252.854352 L 220.8 262.73376 L 245.6 268.870968 L 270.4 270.600696 L 295.2 268.954128 L 320 263.45448 L 344.8 256.57992 L 369.6 248.70744 L 394.4 240.44688 L 419.2 233.46144 L 444 227.25216 L 468.8 222.26256 L 493.6 218.7144 L 518.4 218.16 " clip-path="url(#p4308238263)" style="fill: none; stroke: #1f77b4; stroke-width: 1.5; stroke-linecap: square"/>
</g>
<g id="line2d_31">
<path d="M 72 92.864695 L 96.8 148.522009 L 121.6 188.648496 L 146.4 216.876217 L 171.2 237.454679 L 196 252.621504 L 220.8 262.48428 L 245.6 268.654752 L 270.4 270.417744 L 295.2 268.771176 L 320 263.210544 L 344.8 256.347072 L 369.6 248.452416 L 394.4 240.180768 L 419.2 233.228592 L 444 227.096928 L 468.8 222.074064 L 493.6 218.60352 L 518.4 218.16 " clip-path="url(#p4308238263)" style="fill: none; stroke: #ff7f0e; stroke-width: 1.5; stroke-linecap: square"/>
</g>
<g id="line2d_32">
<path d="M 72 93.418642 L 96.8 148.217303 L 121.6 188.20656 L 146.4 216.467694 L 171.2 237.154991 L 196 252.388656 L 220.8 262.2348 L 245.6 268.438536 L 270.4 270.234792 L 295.2 268.588224 L 320 262.966608 L 344.8 256.114224 L 369.6 248.197392 L 394.4 239.914656 L 419.2 232.995744 L 444 226.941696 L 468.8 221.885568 L 493.6 218.49264 L 518.4 218.16 " clip-path="url(#p4308238263)" style="fill: none; stroke: #2ca02c; stroke-width: 1.5; stroke-linecap: square"/>
</g>
<g id="line2d_33">
<path d="M 72 94.18032 L 96.8 147.912597 L 121.6 187.764624 L 146.4 216.05917 L 171.2 236.855304 L 196 252.155808 L 220.8 261.98532 L 245.6 268.22232 L 270.4 270.05184 L 295.2 268.405272 L 320 262.722672 L 344.8 255.881376 L 369.6 247.942368 L 394.4 239.648544 L 419.2 232.762896 L 444 226.786464 L 468.8 221.697072 L 493.6 218.38176 L 518.4 218.16 " clip-path="url(#p4308238263)" style="fill: none; stroke: #d62728; stroke-width: 1.5; stroke-linecap: square"/>
</g>
<g id="line2d_34">
<path d="M 72 95.426702 L 96.8 147.607891 L 121.6 187.322688 L 146.4 215.650647 L 171.2 236.555616 L 196 251.92296 L 220.8 261.73584 L 245.6 268.602159 L 270.4 270.373242 L 295.2 268.22232 L 320 262.478736 L 344.8 255.648528 L 369.6 247.687344 L 394.4 239.382432 L 419.2 232.530048 L 444 226.631232 L 468.8 221.508576 L 493.6 218.27088 L 518.4 218.16 " clip-path="url(#p4308238263)" style="fill: none; stroke: #9467bd; stroke-width: 1.5; stroke-linecap: square"/>
</g>
<g id="line2d_35">
<path d="M 72 96.465353 L 96.8 147.303185 L 121.6 186.880752 L 146.4 215.242123 L 171.2 236.255928 L 196 252.432315 L 220.8 262.281577 L 245.6 268.981998 L 270.4 270.694644 L 295.2 268.622527 L 320 262.2348 L 344.8 255.41568 L 369.6 247.43232 L 394.4 239.11632 L 419.2 232.2972 L 444 226.476 L 468.8 221.32008 L 493.6 218.16 L 518.4 218.16 " clip-path="url(#p4308238263)" style="fill: none; stroke: #8c564b; stroke-width: 1.5; stroke-linecap: square"/>
</g>
<g id="line2d_36">
<path d="M 72 97.642491 L 96.8 146.97504 L 121.6 187.22448 L 146.4 214.8336 L 171.2 235.95624 L 196 252.94167 L 220.8 262.827315 L 245.6 269.361837 L 270.4 271.016046 L 295.2 269.022735 L 320 262.600704 L 344.8 255.764952 L 369.6 247.814856 L 394.4 239.515488 L 419.2 232.646472 L 444 226.708848 L 468.8 221.602824 L 493.6 218.32632 L 518.4 218.16 " clip-path="url(#p4308238263)" style="fill: none; stroke: #e377c2; stroke-width: 1.5; stroke-linecap: square"/>
</g>
<g id="line2d_37">
<path d="M 72 98.681143 L 96.8 148.943909 L 121.6 188.599392 L 146.4 216.467694 L 171.2 237.154991 L 196 253.451025 L 220.8 263.373052 L 245.6 269.741676 L 270.4 271.337449 L 295.2 269.422942 L 320 262.966608 L 344.8 256.114224 L 369.6 248.197392 L 394.4 239.914656 L 419.2 232.995744 L 444 226.941696 L 468.8 221.885568 L 493.6 218.49264 L 518.4 218.16 " clip-path="url(#p4308238263)" style="fill: none; stroke: #7f7f7f; stroke-width: 1.5; stroke-linecap: square"/>
</g>
<g id="line2d_38">
<path d="M 72 99.719794 L 96.8 149.272054 L 121.6 189.630576 L 146.4 218.101788 L 171.2 238.353743 L 196 253.96038 L 220.8 263.91879 L 245.6 270.121515 L 270.4 271.658851 L 295.2 269.82315 L 320 263.332512 L 344.8 256.463496 L 369.6 248.579928 L 394.4 240.313824 L 419.2 233.345016 L 444 227.174544 L 468.8 222.168312 L 493.6 218.65896 L 518.4 218.16 " clip-path="url(#p4308238263)" style="fill: none; stroke: #bcbd22; stroke-width: 1.5; stroke-linecap: square"/>
</g>
<g id="line2d_39">
<path d="M 72 101.797097 L 96.8 150.912778 L 121.6 191.005488 L 146.4 219.735882 L 171.2 239.552494 L 196 254.469735 L 220.8 264.464527 L 245.6 270.501354 L 270.4 271.980253 L 295.2 270.223357 L 320 263.698416 L 344.8 256.812768 L 369.6 248.962464 L 394.4 240.712992 L 419.2 233.694288 L 444 227.407392 L 468.8 222.451056 L 493.6 218.82528 L 518.4 218.16 " clip-path="url(#p4308238263)" style="fill: none; stroke: #17becf; stroke-width: 1.5; stroke-linecap: square"/>
</g>
<g id="line2d_40">
<path d="M 72 102.545373 L 96.8 151.569068 L 121.6 193.067856 L 146.4 221.369976 L 171.2 240.751246 L 196 254.97909 L 220.8 265.010265 L 245.6 270.881192 L 270.4 272.301655 L 295.2 270.623565 L 320 263.716265 L 344.8 256.829806 L 369.6 248.981124 L 394.4 240.732464 L 419.2 233.711326 L 444 227.41875 L 468.8 222.464848 L 493.6 218.833393 L 518.4 218.16 " clip-path="url(#p4308238263)" style="fill: none; stroke: #1f77b4; stroke-width: 1.5; stroke-linecap: square"/>
</g>
<g id="line2d_41">
<path d="M 72 103.293649 L 96.8 152.181605 L 121.6 193.342838 L 146.4 221.469012 L 171.2 240.815134 L 196 255.201627 L 220.8 265.248697 L 245.6 271.053489 L 270.4 272.447445 L 295.2 270.798092 L 320 263.734114 L 344.8 256.846843 L 369.6 248.999785 L 394.4 240.751935 L 419.2 233.728363 L 444 227.430109 L 468.8 222.478641 L 493.6 218.841506 L 518.4 218.16 " clip-path="url(#p4308238263)" style="fill: none; stroke: #ff7f0e; stroke-width: 1.5; stroke-linecap: square"/>
</g>
<g id="line2d_42">
<path d="M 72 104.041924 L 96.8 152.794142 L 121.6 193.617821 L 146.4 221.568048 L 171.2 240.879023 L 196 255.232952 L 220.8 265.28226 L 245.6 271.087424 L 270.4 272.476159 L 295.2 270.822164 L 320 263.751963 L 344.8 256.863881 L 369.6 249.018445 L 394.4 240.771407 L 419.2 233.745401 L 444 227.441467 L 468.8 222.492433 L 493.6 218.84962 L 518.4 218.16 " clip-path="url(#p4308238263)" style="fill: none; stroke: #2ca02c; stroke-width: 1.5; stroke-linecap: square"/>
</g>
<g id="line2d_43">
<path d="M 72 104.7902 L 96.8 153.406679 L 121.6 193.892803 L 146.4 221.667084 L 171.2 240.942911 L 196 255.264277 L 220.8 265.315822 L 245.6 271.12136 L 270.4 272.504874 L 295.2 270.846237 L 320 263.769812 L 344.8 256.880919 L 369.6 249.037105 L 394.4 240.790878 L 419.2 233.762439 L 444 227.452826 L 468.8 222.506226 L 493.6 218.857733 L 518.4 218.16 " clip-path="url(#p4308238263)" style="fill: none; stroke: #d62728; stroke-width: 1.5; stroke-linecap: square"/>
</g>
<g id="line2d_44">
<path d="M 72 105.538476 L 96.8 154.019216 L 121.6 194.167786 L 146.4 221.76612 L 171.2 241.0068 L 196 255.295601 L 220.8 265.349384 L 245.6 271.155295 L 270.4 272.533588 L 295.2 270.870309 L 320 263.787661 L 344.8 256.897956 L 369.6 249.055765 L 394.4 240.81035 L 419.2 233.779476 L 444 227.464184 L 468.8 222.520018 L 493.6 218.865846 L 518.4 218.16 " clip-path="url(#p4308238263)" style="fill: none; stroke: #9467bd; stroke-width: 1.5; stroke-linecap: square"/>
</g>
<g id="line2d_45">
<path d="M 72 106.286752 L 96.8 154.631754 L 121.6 194.442768 L 146.4 221.865156 L 171.2 241.070688 L 196 255.326926 L 220.8 265.382947 L 245.6 271.18923 L 270.4 272.562302 L 295.2 270.894382 L 320 263.80551 L 344.8 256.914994 L 369.6 249.074426 L 394.4 240.829822 L 419.2 233.796514 L 444 227.475543 L 468.8 222.53381 L 493.6 218.873959 L 518.4 218.16 " clip-path="url(#p4308238263)" style="fill: none; stroke: #8c564b; stroke-width: 1.5; stroke-linecap: square"/>
</g>
<g id="line2d_46">
<path d="M 72 107.035027 L 96.8 155.244291 L 121.6 194.71775 L 146.4 221.964192 L 171.2 241.134577 L 196 255.358251 L 220.8 265.416509 L 245.6 271.223165 L 270.4 272.591017 L 295.2 270.918455 L 320 263.823359 L 344.8 256.932032 L 369.6 249.093086 L 394.4 240.849293 L 419.2 233.813552 L 444 227.486901 L 468.8 222.547603 L 493.6 218.882072 L 518.4 218.16 " clip-path="url(#p4308238263)" style="fill: none; stroke: #e377c2; stroke-width: 1.5; stroke-linecap: square"/>
</g>
<g id="line2d_47">
<path d="M 72 107.783303 L 96.8 155.856828 L 121.6 194.992733 L 146.4 222.063228 L 171.2 241.198466 L 196 255.389576 L 220.8 265.450071 L 245.6 271.257101 L 270.4 272.619731 L 295.2 270.942527 L 320 263.841208 L 344.8 256.949069 L 369.6 249.111746 L 394.4 240.868765 L 419.2 233.830589 L 444 227.49826 L 468.8 222.561395 L 493.6 218.890185 L 518.4 218.16 " clip-path="url(#p4308238263)" style="fill: none; stroke: #7f7f7f; stroke-width: 1.5; stroke-linecap: square"/>
</g>
<g id="line2d_48">
<path d="M 72 108.531579 L 96.8 156.469365 L 121.6 195.267715 L 146.4 222.162264 L 171.2 241.262354 L 196 255.420901 L 220.8 265.483634 L 245.6 271.291036 L 270.4 272.648446 L 295.2 270.9666 L 320 263.859057 L 344.8 256.966107 L 369.6 249.130407 L 394.4 240.888236 L 419.2 233.847627 L 444 227.509618 L 468.8 222.575188 L 493.6 218.898299 L 518.4 218.16 " clip-path="url(#p4308238263)" style="fill: none; stroke: #bcbd22; stroke-width: 1.5; stroke-linecap: square"/>
</g>
<g id="line2d_49">
<path d="M 72 109.279855 L 96.8 157.081902 L 121.6 195.542698 L 146.4 222.2613 L 171.2 241.326243 L 196 255.452226 L 220.8 265.517196 L 245.6 271.324971 L 270.4 272.67716 L 295.2 270.990673 L 320 263.876906 L 344.8 256.983145 L 369.6 249.149067 L 394.4 240.907708 L 419.2 233.864665 L 444 227.520976 L 468.8 222.58898 L 493.6 218.906412 L 518.4 218.16 " clip-path="url(#p4308238263)" style="fill: none; stroke: #17becf; stroke-width: 1.5; stroke-linecap: square"/>
</g>
<g id="line2d_50">
<path d="M 72 110.028131 L 96.8 157.694439 L 121.6 195.81768 L 146.4 222.360336 L 171.2 241.390131 L 196 255.48355 L 220.8 265.550758 L 245.6 271.358906 L 270.4 272.705875 L 295.2 271.014745 L 320 263.894755 L 344.8 257.000182 L 369.6 249.167727 L 394.4 240.92718 L 419.2 233.881702 L 444 227.532335 L 468.8 222.602772 L 493.6 218.914525 L 518.4 218.16 " clip-path="url(#p4308238263)" style="fill: none; stroke: #1f77b4; stroke-width: 1.5; stroke-linecap: square"/>
</g>
<g id="line2d_51">
<path d="M 72 110.776406 L 96.8 158.306976 L 121.6 196.092662 L 146.4 222.459372 L 171.2 241.45402 L 196 255.514875 L 220.8 265.584321 L 245.6 271.392842 L 270.4 272.734589 L 295.2 271.038818 L 320 263.912604 L 344.8 257.01722 L 369.6 249.186388 L 394.4 240.946651 L 419.2 233.89874 L 444 227.543693 L 468.8 222.616565 L 493.6 218.922638 L 518.4 218.16 " clip-path="url(#p4308238263)" style="fill: none; stroke: #ff7f0e; stroke-width: 1.5; stroke-linecap: square"/>
</g>
<g id="line2d_52">
<path d="M 72 111.524682 L 96.8 158.919513 L 121.6 196.367645 L 146.4 222.558408 L 171.2 241.517908 L 196 255.5462 L 220.8 265.617883 L 245.6 271.426777 L 270.4 272.763303 L 295.2 271.062891 L 320 263.930453 L 344.8 257.034258 L 369.6 249.205048 L 394.4 240.966123 L 419.2 233.915778 L 444 227.555052 L 468.8 222.630357 L 493.6 218.930751 L 518.4 218.16 " clip-path="url(#p4308238263)" style="fill: none; stroke: #2ca02c; stroke-width: 1.5; stroke-linecap: square"/>
</g>
<g id="line2d_53">
<path d="M 72 112.272958 L 96.8 159.53205 L 121.6 196.642627 L 146.4 222.657444 L 171.2 241.581797 L 196 255.577525 L 220.8 265.651445 L 245.6 271.460712 L 270.4 272.792018 L 295.2 271.086963 L 320 263.948302 L 344.8 257.051295 L 369.6 249.223708 L 394.4 240.985595 L 419.2 233.932815 L 444 227.56641 L 468.8 222.644149 L 493.6 218.938864 L 518.4 218.16 " clip-path="url(#p4308238263)" style="fill: none; stroke: #d62728; stroke-width: 1.5; stroke-linecap: square"/>
</g>
<g id="line2d_54">
<path d="M 72 113.021234 L 96.8 160.144587 L 121.6 196.91761 L 146.4 222.75648 L 171.2 241.645686 L 196 255.60885 L 220.8 265.685008 L 245.6 271.494647 L 270.4 272.820732 L 295.2 271.111036 L 320 263.966151 L 344.8 257.068333 L 369.6 249.242368 L 394.4 241.005066 L 419.2 233.949853 L 444 227.577769 L 468.8 222.657942 L 493.6 218.946978 L 518.4 218.16 " clip-path="url(#p4308238263)" style="fill: none; stroke: #9467bd; stroke-width: 1.5; stroke-linecap: square"/>
</g>
<g id="line2d_55">
<path d="M 72 113.769509 L 96.8 160.757124 L 121.6 197.192592 L 146.4 222.855516 L 171.2 241.709574 L 196 255.640175 L 220.8 265.71857 L 245.6 271.528583 L 270.4 272.849447 L 295.2 271.135108 L 320 263.984 L 344.8 257.085371 L 369.6 249.261029 L 394.4 241.024538 L 419.2 233.966891 L 444 227.589127 L 468.8 222.671734 L 493.6 218.955091 L 518.4 218.16 " clip-path="url(#p4308238263)" style="fill: none; stroke: #8c564b; stroke-width: 1.5; stroke-linecap: square"/>
</g>
<g id="line2d_56">
<path d="M 72 114.517785 L 96.8 161.369661 L 121.6 197.467574 L 146.4 222.954552 L 171.2 241.773463 L 196 255.6715 L 220.8 265.752132 L 245.6 271.562518 L 270.4 272.878161 L 295.2 271.159181 L 320 264.001849 L 344.8 257.102408 L 369.6 249.279689 L 394.4 241.044009 L 419.2 233.983928 L 444 227.600485 L 468.8 222.685527 L 493.6 218.963204 L 518.4 218.16 " clip-path="url(#p4308238263)" style="fill: none; stroke: #e377c2; stroke-width: 1.5; stroke-linecap: square"/>
</g>
<g id="line2d_57">
<path d="M 72 115.266061 L 96.8 161.982198 L 121.6 197.742557 L 146.4 223.053588 L 171.2 241.837351 L 196 255.702824 L 220.8 265.785695 L 245.6 271.596453 L 270.4 272.906876 L 295.2 271.183254 L 320 264.019698 L 344.8 257.119446 L 369.6 249.298349 L 394.4 241.063481 L 419.2 234.000966 L 444 227.611844 L 468.8 222.699319 L 493.6 218.971317 L 518.4 218.16 " clip-path="url(#p4308238263)" style="fill: none; stroke: #7f7f7f; stroke-width: 1.5; stroke-linecap: square"/>
</g>
<g id="line2d_58">
<path d="M 72 116.014337 L 96.8 162.594736 L 121.6 198.017539 L 146.4 223.152624 L 171.2 241.90124 L 196 255.734149 L 220.8 265.819257 L 245.6 271.630388 L 270.4 272.93559 L 295.2 271.207326 L 320 264.037547 L 344.8 257.136484 L 369.6 249.31701 L 394.4 241.082953 L 419.2 234.018004 L 444 227.623202 L 468.8 222.713111 L 493.6 218.97943 L 518.4 218.16 " clip-path="url(#p4308238263)" style="fill: none; stroke: #bcbd22; stroke-width: 1.5; stroke-linecap: square"/>
</g>
<g id="line2d_59">
<path d="M 72 116.762612 L 96.8 163.207273 L 121.6 198.292522 L 146.4 223.25166 L 171.2 241.965129 L 196 255.765474 L 220.8 265.852819 L 245.6 271.664324 L 270.4 272.964305 L 295.2 271.231399 L 320 264.055396 L 344.8 257.153521 L 369.6 249.33567 L 394.4 241.102424 L 419.2 234.035041 L 444 227.634561 L 468.8 222.726904 L 493.6 218.987543 L 518.4 218.16 " clip-path="url(#p4308238263)" style="fill: none; stroke: #17becf; stroke-width: 1.5; stroke-linecap: square"/>
</g>
<g id="line2d_60">
<path d="M 72 117.510888 L 96.8 163.81981 L 121.6 198.567504 L 146.4 223.350696 L 171.2 242.029017 L 196 255.796799 L 220.8 265.886382 L 245.6 271.698259 L 270.4 272.993019 L 295.2 271.255472 L 320 264.073244 L 344.8 257.170559 L 369.6 249.35433 L 394.4 241.121896 L 419.2 234.052079 L 444 227.645919 L 468.8 222.740696 L 493.6 218.995657 L 518.4 218.16 " clip-path="url(#p4308238263)" style="fill: none; stroke: #1f77b4; stroke-width: 1.5; stroke-linecap: square"/>
</g>
<g id="line2d_61">
<path d="M 72 118.259164 L 96.8 164.432347 L 121.6 198.842486 L 146.4 223.449732 L 171.2 242.092906 L 196 255.828124 L 220.8 265.919944 L 245.6 271.732194 L 270.4 273.021733 L 295.2 271.279544 L 320 264.091093 L 344.8 257.187596 L 369.6 249.37299 L 394.4 241.141367 L 419.2 234.069116 L 444 227.657278 L 468.8 222.754489 L 493.6 219.00377 L 518.4 218.16 " clip-path="url(#p4308238263)" style="fill: none; stroke: #ff7f0e; stroke-width: 1.5; stroke-linecap: square"/>
</g>
<g id="line2d_62">
<path d="M 72 119.00744 L 96.8 165.044884 L 121.6 199.117469 L 146.4 223.548768 L 171.2 242.156794 L 196 255.859449 L 220.8 265.953506 L 245.6 271.766129 L 270.4 273.050448 L 295.2 271.303617 L 320 264.108942 L 344.8 257.204634 L 369.6 249.391651 L 394.4 241.160839 L 419.2 234.086154 L 444 227.668636 L 468.8 222.768281 L 493.6 219.011883 L 518.4 218.16 " clip-path="url(#p4308238263)" style="fill: none; stroke: #2ca02c; stroke-width: 1.5; stroke-linecap: square"/>
</g>
<g id="line2d_63">
<path d="M 72 119.755715 L 96.8 165.657421 L 121.6 199.392451 L 146.4 223.647804 L 171.2 242.220683 L 196 255.890773 L 220.8 265.987069 L 245.6 271.800065 L 270.4 273.079162 L 295.2 271.327689 L 320 264.126791 L 344.8 257.221672 L 369.6 249.410311 L 394.4 241.180311 L 419.2 234.103192 L 444 227.679995 L 468.8 222.782073 L 493.6 219.019996 L 518.4 218.16 " clip-path="url(#p4308238263)" style="fill: none; stroke: #d62728; stroke-width: 1.5; stroke-linecap: square"/>
</g>
<g id="line2d_64">
<path d="M 72 120.503991 L 96.8 166.269958 L 121.6 199.667434 L 146.4 223.74684 L 171.2 242.284571 L 196 255.922098 L 220.8 266.020631 L 245.6 271.834 L 270.4 273.107877 L 295.2 271.351762 L 320 264.14464 L 344.8 257.238709 L 369.6 249.428971 L 394.4 241.199782 L 419.2 234.120229 L 444 227.691353 L 468.8 222.795866 L 493.6 219.028109 L 518.4 218.16 " clip-path="url(#p4308238263)" style="fill: none; stroke: #9467bd; stroke-width: 1.5; stroke-linecap: square"/>
</g>
<g id="line2d_65">
<path d="M 72 121.252267 L 96.8 166.882495 L 121.6 199.942416 L 146.4 223.845876 L 171.2 242.34846 L 196 255.953423 L 220.8 266.054193 L 245.6 271.867935 L 270.4 273.136591 L 295.2 271.375835 L 320 264.162489 L 344.8 257.255747 L 369.6 249.447632 L 394.4 241.219254 L 419.2 234.137267 L 444 227.702711 L 468.8 222.809658 L 493.6 219.036222 L 518.4 218.16 " clip-path="url(#p4308238263)" style="fill: none; stroke: #8c564b; stroke-width: 1.5; stroke-linecap: square"/>
</g>
<g id="line2d_66">
<path d="M 72 122.000543 L 96.8 167.495032 L 121.6 200.217398 L 146.4 223.944912 L 171.2 242.412349 L 196 255.984748 L 220.8 266.087756 L 245.6 271.90187 L 270.4 273.165306 L 295.2 271.399907 L 320 264.180338 L 344.8 257.272785 L 369.6 249.466292 L 394.4 241.238725 L 419.2 234.154305 L 444 227.71407 L 468.8 222.823451 L 493.6 219.044336 L 518.4 218.16 " clip-path="url(#p4308238263)" style="fill: none; stroke: #e377c2; stroke-width: 1.5; stroke-linecap: square"/>
</g>
<g id="line2d_67">
<path d="M 72 122.748818 L 96.8 168.107569 L 121.6 200.492381 L 146.4 224.043948 L 171.2 242.476237 L 196 256.016073 L 220.8 266.121318 L 245.6 271.935806 L 270.4 273.19402 L 295.2 271.42398 L 320 264.198187 L 344.8 257.289822 L 369.6 249.484952 L 394.4 241.258197 L 419.2 234.171342 L 444 227.725428 L 468.8 222.837243 L 493.6 219.052449 L 518.4 218.16 " clip-path="url(#p4308238263)" style="fill: none; stroke: #7f7f7f; stroke-width: 1.5; stroke-linecap: square"/>
</g>
<g id="line2d_68">
<path d="M 72 123.497094 L 96.8 168.720106 L 121.6 200.767363 L 146.4 224.142984 L 171.2 242.540126 L 196 256.047398 L 220.8 266.15488 L 245.6 271.969741 L 270.4 273.222735 L 295.2 271.448053 L 320 264.216036 L 344.8 257.30686 L 369.6 249.503612 L 394.4 241.277669 L 419.2 234.18838 L 444 227.736787 L 468.8 222.851035 L 493.6 219.060562 L 518.4 218.16 " clip-path="url(#p4308238263)" style="fill: none; stroke: #bcbd22; stroke-width: 1.5; stroke-linecap: square"/>
</g>
<g id="line2d_69">
<path d="M 72 124.24537 L 96.8 169.332643 L 121.6 201.042346 L 146.4 224.24202 L 171.2 242.604014 L 196 256.078723 L 220.8 266.188443 L 245.6 272.003676 L 270.4 273.251449 L 295.2 271.472125 L 320 264.233885 L 344.8 257.323898 L 369.6 249.522273 L 394.4 241.29714 L 419.2 234.205418 L 444 227.748145 L 468.8 222.864828 L 493.6 219.068675 L 518.4 218.16 " clip-path="url(#p4308238263)" style="fill: none; stroke: #17becf; stroke-width: 1.5; stroke-linecap: square"/>
</g>
<g id="line2d_70">
<path d="M 72 124.993646 L 96.8 169.945181 L 121.6 201.317328 L 146.4 224.341056 L 171.2 242.667903 L 196 256.110047 L 220.8 266.222005 L 245.6 272.037611 L 270.4 273.280163 L 295.2 271.496198 L 320 264.251734 L 344.8 257.340935 L 369.6 249.540933 L 394.4 241.316612 L 419.2 234.222455 L 444 227.759504 L 468.8 222.87862 L 493.6 219.076788 L 518.4 218.16 " clip-path="url(#p4308238263)" style="fill: none; stroke: #1f77b4; stroke-width: 1.5; stroke-linecap: square"/>
</g>
<g id="line2d_71">
<path d="M 72 125.68608 L 96.8 171.25776 L 121.6 202.69224 L 146.4 224.440092 L 171.2 242.731791 L 196 256.141372 L 220.8 266.255567 L 245.6 272.071547 L 270.4 273.308878 L 295.2 271.520271 L 320 264.269583 L 344.8 257.357973 L 369.6 249.559593 L 394.4 241.336084 L 419.2 234.239493 L 444 227.770862 L 468.8 222.892412 L 493.6 219.084901 L 518.4 218.16 " clip-path="url(#p4308238263)" style="fill: none; stroke: #ff7f0e; stroke-width: 1.5; stroke-linecap: square"/>
</g>
<g id="line2d_72">
<path d="M 72 124.993646 L 96.8 171.224946 L 121.6 202.649274 L 146.4 224.539128 L 171.2 242.79568 L 196 256.172697 L 220.8 266.28913 L 245.6 272.105482 L 270.4 273.337592 L 295.2 271.544343 L 320 264.287432 L 344.8 257.375011 L 369.6 249.578254 L 394.4 241.355555 L 419.2 234.256531 L 444 227.78222 L 468.8 222.906205 L 493.6 219.093015 L 518.4 218.16 " clip-path="url(#p4308238263)" style="fill: none; stroke: #2ca02c; stroke-width: 1.5; stroke-linecap: square"/>
</g>
<g id="line2d_73">
<path d="M 72 123.954994 L 96.8 171.192131 L 121.6 202.606308 L 146.4 224.638164 L 171.2 242.859569 L 196 256.204022 L 220.8 266.322692 L 245.6 272.139417 L 270.4 273.366307 L 295.2 271.568416 L 320 264.305281 L 344.8 257.392048 L 369.6 249.596914 L 394.4 241.375027 L 419.2 234.273568 L 444 227.793579 L 468.8 222.919997 L 493.6 219.101128 L 518.4 218.16 " clip-path="url(#p4308238263)" style="fill: none; stroke: #d62728; stroke-width: 1.5; stroke-linecap: square"/>
</g>
<g id="line2d_74">
<path d="M 72 122.223909 L 96.8 171.159317 L 121.6 202.563342 L 146.4 224.7372 L 171.2 242.923457 L 196 256.235347 L 220.8 266.356254 L 245.6 272.173352 L 270.4 273.395021 L 295.2 271.592488 L 320 264.32313 L 344.8 257.409086 L 369.6 249.615574 L 394.4 241.394498 L 419.2 234.290606 L 444 227.804937 L 468.8 222.93379 L 493.6 219.109241 L 518.4 218.16 " clip-path="url(#p4308238263)" style="fill: none; stroke: #9467bd; stroke-width: 1.5; stroke-linecap: square"/>
</g>
<g id="line2d_75">
<path d="M 72 122.016178 L 96.8 171.126502 L 121.6 202.520376 L 146.4 224.836236 L 171.2 242.987346 L 196 256.266672 L 220.8 266.389817 L 245.6 272.207288 L 270.4 273.423736 L 295.2 271.616561 L 320 264.340979 L 344.8 257.426124 L 369.6 249.634235 L 394.4 241.41397 L 419.2 234.307644 L 444 227.816296 L 468.8 222.947582 L 493.6 219.117354 L 518.4 218.16 " clip-path="url(#p4308238263)" style="fill: none; stroke: #8c564b; stroke-width: 1.5; stroke-linecap: square"/>
</g>
<g id="line2d_76">
<path d="M 72 121.808448 L 96.8 171.093688 L 121.6 202.47741 L 146.4 224.935272 L 171.2 243.051234 L 196 256.297996 L 220.8 266.423379 L 245.6 272.241223 L 270.4 273.45245 L 295.2 271.640634 L 320 264.358828 L 344.8 257.443161 L 369.6 249.652895 L 394.4 241.433442 L 419.2 234.324681 L 444 227.827654 L 468.8 222.961374 L 493.6 219.125467 L 518.4 218.16 " clip-path="url(#p4308238263)" style="fill: none; stroke: #e377c2; stroke-width: 1.5; stroke-linecap: square"/>
</g>
<g id="line2d_77">
<path d="M 72 121.600718 L 96.8 171.060873 L 121.6 202.434444 L 146.4 225.034308 L 171.2 243.115123 L 196 256.329321 L 220.8 266.456941 L 245.6 272.275158 L 270.4 273.481164 L 295.2 271.664706 L 320 264.376677 L 344.8 257.460199 L 369.6 249.671555 L 394.4 241.452913 L 419.2 234.341719 L 444 227.839013 L 468.8 222.975167 L 493.6 219.13358 L 518.4 218.16 " clip-path="url(#p4308238263)" style="fill: none; stroke: #7f7f7f; stroke-width: 1.5; stroke-linecap: square"/>
</g>
<g id="line2d_78">
<path d="M 72 121.392987 L 96.8 171.028059 L 121.6 202.391478 L 146.4 225.133344 L 171.2 243.179011 L 196 256.360646 L 220.8 266.490504 L 245.6 272.309093 L 270.4 273.509879 L 295.2 271.688779 L 320 264.394526 L 344.8 257.477237 L 369.6 249.690215 L 394.4 241.472385 L 419.2 234.358757 L 444 227.850371 L 468.8 222.988959 L 493.6 219.141694 L 518.4 218.16 " clip-path="url(#p4308238263)" style="fill: none; stroke: #bcbd22; stroke-width: 1.5; stroke-linecap: square"/>
</g>
<g id="line2d_79">
<path d="M 72 121.185257 L 96.8 170.995244 L 121.6 202.348512 L 146.4 225.23238 L 171.2 243.2429 L 196 256.391971 L 220.8 266.524066 L 245.6 272.343029 L 270.4 273.538593 L 295.2 271.712852 L 320 264.412375 L 344.8 257.494274 L 369.6 249.708876 L 394.4 241.491856 L 419.2 234.375794 L 444 227.86173 L 468.8 223.002752 L 493.6 219.149807 L 518.4 218.16 " clip-path="url(#p4308238263)" style="fill: none; stroke: #17becf; stroke-width: 1.5; stroke-linecap: square"/>
</g>
<g id="line2d_80">
<path d="M 72 120.146606 L 96.8 170.929615 L 121.6 202.004784 L 146.4 225.331416 L 171.2 243.306789 L 196 256.423296 L 220.8 266.557628 L 245.6 272.376964 L 270.4 273.567308 L 295.2 271.736924 L 320 264.430224 L 344.8 257.511312 L 369.6 249.727536 L 394.4 241.511328 L 419.2 234.392832 L 444 227.873088 L 468.8 223.016544 L 493.6 219.15792 L 518.4 218.16 " clip-path="url(#p4308238263)" style="fill: none; stroke: #1f77b4; stroke-width: 1.5; stroke-linecap: square"/>
</g>
<g id="line2d_81">
<path d="M 72 119.454171 L 96.8 168.632601 L 121.6 200.286144 L 146.4 225.430452 L 171.2 243.370677 L 196 256.454621 L 220.8 266.591191 L 245.6 272.410899 L 270.4 273.596022 L 295.2 271.760997 L 320 264.613176 L 344.8 257.685948 L 369.6 249.918804 L 394.4 241.710912 L 419.2 234.567468 L 444 227.989512 L 468.8 223.157916 L 493.6 219.24108 L 518.4 218.16 " clip-path="url(#p4308238263)" style="fill: none; stroke: #ff7f0e; stroke-width: 1.5; stroke-linecap: square"/>
</g>
<g id="line2d_82">
<path d="M 72 118.761737 L 96.8 166.335587 L 121.6 199.598688 L 146.4 225.529488 L 171.2 243.434566 L 196 256.485945 L 220.8 266.624753 L 245.6 272.444834 L 270.4 273.624737 L 295.2 271.785069 L 320 264.796128 L 344.8 257.860584 L 369.6 250.110072 L 394.4 241.910496 L 419.2 234.742104 L 444 228.105936 L 468.8 223.299288 L 493.6 219.32424 L 518.4 218.16 " clip-path="url(#p4308238263)" style="fill: none; stroke: #2ca02c; stroke-width: 1.5; stroke-linecap: square"/>
</g>
<g id="line2d_83">
<path d="M 72 117.376869 L 96.8 165.023008 L 121.6 198.911232 L 146.4 225.628524 L 171.2 243.498454 L 196 256.51727 L 220.8 266.658315 L 245.6 272.47877 L 270.4 273.653451 L 295.2 271.809142 L 320 265.601117 L 344.8 258.628982 L 369.6 250.951651 L 394.4 242.788666 L 419.2 235.510502 L 444 228.618202 L 468.8 223.921325 L 493.6 219.690144 L 518.4 218.16 " clip-path="url(#p4308238263)" style="fill: none; stroke: #d62728; stroke-width: 1.5; stroke-linecap: square"/>
</g>
<g id="line2d_84">
<path d="M 72 115.992 L 96.8 162.725994 L 121.6 198.567504 L 146.4 225.72756 L 171.2 243.562343 L 196 256.548595 L 220.8 266.691878 L 245.6 272.512705 L 270.4 273.682166 L 295.2 271.833215 L 320 265.633642 L 344.8 258.660029 L 369.6 250.985654 L 394.4 242.824147 L 419.2 235.541549 L 444 228.638899 L 468.8 223.946458 L 493.6 219.704928 L 518.4 218.16 " clip-path="url(#p4308238263)" style="fill: none; stroke: #9467bd; stroke-width: 1.5; stroke-linecap: square"/>
</g>
<g id="line2d_85">
<path d="M 72 115.645783 L 96.8 162.069704 L 121.6 198.223776 L 146.4 225.182862 L 171.2 243.626231 L 196 256.57992 L 220.8 266.72544 L 245.6 272.54664 L 270.4 273.71088 L 295.2 271.857287 L 320 265.666166 L 344.8 258.691075 L 369.6 251.019658 L 394.4 242.859629 L 419.2 235.572595 L 444 228.659597 L 468.8 223.97159 L 493.6 219.719712 L 518.4 218.16 " clip-path="url(#p4308238263)" style="fill: none; stroke: #8c564b; stroke-width: 1.5; stroke-linecap: square"/>
</g>
<g id="line2d_86">
<path d="M 72 114.953349 L 96.8 161.413414 L 121.6 197.880048 L 146.4 224.638164 L 171.2 243.69012 L 196 256.114224 L 220.8 266.22648 L 245.6 272.114208 L 270.4 273.344976 L 295.2 271.88136 L 320 265.698691 L 344.8 258.722122 L 369.6 251.053661 L 394.4 242.89511 L 419.2 235.603642 L 444 228.680294 L 468.8 223.996723 L 493.6 219.734496 L 518.4 218.16 " clip-path="url(#p4308238263)" style="fill: none; stroke: #e377c2; stroke-width: 1.5; stroke-linecap: square"/>
</g>
<g id="line2d_87">
<path d="M 72 113.56848 L 96.8 158.131965 L 121.6 197.192592 L 146.4 224.093466 L 171.2 243.200308 L 196 255.648528 L 220.8 265.72752 L 245.6 271.681776 L 270.4 272.979072 L 295.2 271.515456 L 320 265.731216 L 344.8 258.753168 L 369.6 251.087664 L 394.4 242.930592 L 419.2 235.634688 L 444 228.700992 L 468.8 224.021856 L 493.6 219.74928 L 518.4 218.16 " clip-path="url(#p4308238263)" style="fill: none; stroke: #7f7f7f; stroke-width: 1.5; stroke-linecap: square"/>
</g>
<g id="line2d_88">
<path d="M 72 111.837394 L 96.8 157.803821 L 121.6 196.505136 L 146.4 223.548768 L 171.2 242.710495 L 196 255.555389 L 220.8 265.627728 L 245.6 271.552046 L 270.4 272.869301 L 295.2 271.149552 L 320 265.763741 L 344.8 258.784214 L 369.6 251.121667 L 394.4 242.966074 L 419.2 235.665734 L 444 228.72169 L 468.8 224.046989 L 493.6 219.764064 L 518.4 218.16 " clip-path="url(#p4308238263)" style="fill: none; stroke: #bcbd22; stroke-width: 1.5; stroke-linecap: square"/>
</g>
<g id="line2d_89">
<path d="M 72 108.375223 L 96.8 156.163096 L 121.6 195.81768 L 146.4 223.00407 L 171.2 242.220683 L 196 255.46225 L 220.8 265.527936 L 245.6 271.422317 L 270.4 272.75953 L 295.2 271.058076 L 320 265.796266 L 344.8 258.815261 L 369.6 251.15567 L 394.4 243.001555 L 419.2 235.696781 L 444 228.742387 L 468.8 224.072122 L 493.6 219.778848 L 518.4 218.16 " clip-path="url(#p4308238263)" style="fill: none; stroke: #17becf; stroke-width: 1.5; stroke-linecap: square"/>
</g>
<g id="line2d_90">
<path d="M 72 106.644137 L 96.8 155.178662 L 121.6 195.130224 L 146.4 222.459372 L 171.2 241.73087 L 196 255.36911 L 220.8 265.428144 L 245.6 271.292587 L 270.4 272.649758 L 295.2 270.9666 L 320 265.82879 L 344.8 258.846307 L 369.6 251.189674 L 394.4 243.037037 L 419.2 235.727827 L 444 228.763085 L 468.8 224.097254 L 493.6 219.793632 L 518.4 218.16 " clip-path="url(#p4308238263)" style="fill: none; stroke: #1f77b4; stroke-width: 1.5; stroke-linecap: square"/>
</g>
<g id="line2d_91">
<path d="M 72 104.220617 L 96.8 154.194227 L 121.6 194.442768 L 146.4 221.914674 L 171.2 241.241058 L 196 255.275971 L 220.8 265.328352 L 245.6 271.162858 L 270.4 272.539987 L 295.2 270.875124 L 320 265.861315 L 344.8 258.877354 L 369.6 251.223677 L 394.4 243.072518 L 419.2 235.758874 L 444 228.783782 L 468.8 224.122387 L 493.6 219.808416 L 518.4 218.16 " clip-path="url(#p4308238263)" style="fill: none; stroke: #ff7f0e; stroke-width: 1.5; stroke-linecap: square"/>
</g>
<g id="line2d_92">
<path d="M 72 102.143314 L 96.8 152.225358 L 121.6 193.755312 L 146.4 221.369976 L 171.2 240.751246 L 196 255.182832 L 220.8 265.22856 L 245.6 271.033128 L 270.4 272.430216 L 295.2 270.783648 L 320 265.89384 L 344.8 258.9084 L 369.6 251.25768 L 394.4 243.108 L 419.2 235.78992 L 444 228.80448 L 468.8 224.14752 L 493.6 219.8232 L 518.4 218.16 " clip-path="url(#p4308238263)" style="fill: none; stroke: #2ca02c; stroke-width: 1.5; stroke-linecap: square"/>
</g>
<g id="patch_3">
<path d="M 72.3600 384.8400 L 72.3600 52.2000 " style="fill: none; stroke: #000000; stroke-width: 0.8; stroke-linejoin: miter; stroke-linecap: square"/>
</g>
<g id="patch_4">
<path d="M 518.7600 384.8400 L 518.7600 52.2000 " style="fill: none; stroke: #000000; stroke-width: 0.8; stroke-linejoin: miter; stroke-linecap: square"/>
</g>
<g id="patch_5">
<path d="M 72.3600 384.8400 L 518.7600 384.8400 " style="fill: none; stroke: #000000; stroke-width: 0.8; stroke-linejoin: miter; stroke-linecap: square"/>
</g>
<g id="patch_6">
<path d="M 72.3600 52.2000 L 518.7600 52.2000 " style="fill: none; stroke: #000000; stroke-width: 0.8; stroke-linejoin: miter; stroke-linecap: square"/>
</g>
<g id="text_22">
<!-- Antenna Phase Biases: BeiDOU-E5b -->
<g transform="translate(188.0430 46.4160) scale(0.12 -0.12)">
<defs>
<path id="DejaVuSans-41" d="M 2188 4044 L 1331 1722 L 3047 1722 L 2188 4044 z
M 1831 4666 L 2547 4666 L 4325 0 L 3669 0 L 3244 1197 L 1141 1197 L 716 0 L 50 0 L 1831 4666 z
" transform="scale(0.015625)"/>
<path id="DejaVuSans-50" d="M 1259 4147 L 1259 2394 L 2053 2394 Q 2494 2394 2734 2622 Q 2975 2850 2975 3272 Q 2975 3691 2734 3919 Q 2494 4147 2053 4147 L 1259 4147 z
M 628 4666 L 2053 4666 Q 2838 4666 3239 4311 Q 3641 3956 3641 3272 Q 3641 2581 3239 2228 Q 2838 1875 2053 1875 L 1259 1875 L 1259 0 L 628 0 L 628 4666 z
" transform="scale(0.015625)"/>
<path id="DejaVuSans-68" d="M 3513 2113 L 3513 0 L 2938 0 L 2938 2094 Q 2938 2591 2744 2837 Q 2550 3084 2163 3084 Q 1697 3084 1428 2787 Q 1159 2491 1159 1978 L 1159 0 L 581 0 L 581 4863 L 1159 4863 L 1159 2956 Q 1366 3272 1645 3428 Q 1925 3584 2291 3584 Q 2894 3584 3203 3211 Q 3513 2838 3513 2113 z
" transform="scale(0.015625)"/>
<path id="DejaVuSans-3a" d="M 750 794 L 1409 794 L 1409 0 L 750 0 L 750 794 z
M 750 3309 L 1409 3309 L 1409 2516 L 750 2516 L 750 3309 z
" transform="scale(0.015625)"/>
<path id="DejaVuSans-44" d="M 1259 4147 L 1259 519 L 2022 519 Q 2988 519 3436 956 Q 3884 1394 3884 2338 Q 3884 3275 3436 3711 Q 2988 4147 2022 4147 L 1259 4147 z
M 628 4666 L 1925 4666 Q 3281 4666 3915 4102 Q 4550 3538 4550 2338 Q 4550 1131 3912 565 Q 3275 0 1925 0 L 628 0 L 628 4666 z
" transform="scale(0.015625)"/>
<path id="DejaVuSans-4f" d="M 2522 4238 Q 1834 4238 1429 3725 Q 1025 3213 1025 2328 Q 1025 1447 1429 934 Q 1834 422 2522 422 Q 3209 422 3611 934 Q 4013 1447 4013 2328 Q 4013 3213 3611 3725 Q 3209 4238 2522 4238 z
M 2522 4750 Q 3503 4750 4090 4092 Q 4678 3434 4678 2328 Q 4678 1225 4090 567 Q 3503 -91 2522 -91 Q 1538 -91 948 565 Q 359 1222 359 2328 Q 359 3434 948 4092 Q 1538 4750 2522 4750 z
" transform="scale(0.015625)"/>
<path id="DejaVuSans-55" d="M 556 4666 L 1191 4666 L 1191 1831 Q 1191 1081 1462 751 Q 1734 422 2344 422 Q 2950 422 3222 751 Q 3494 1081 3494 1831 L 3494 4666 L 4128 4666 L 4128 1753 Q 4128 841 3676 375 Q 3225 -91 2344 -91 Q 1459 -91 1007 375 Q 556 841 556 1753 L 556 4666 z
" transform="scale(0.015625)"/>
<path id="DejaVuSans-2d" d="M 313 2009 L 1997 2009 L 1997 1497 L 313 1497 L 313 2009 z
" transform="scale(0.015625)"/>
<path id="DejaVuSans-62" d="M 3116 1747 Q 3116 2381 2855 2742 Q 2594 3103 2138 3103 Q 1681 3103 1420 2742 Q 1159 2381 1159 1747 Q 1159 1113 1420 752 Q 1681 391 2138 391 Q 2594 391 2855 752 Q 3116 1113 3116 1747 z
M 1159 2969 Q 1341 3281 1617 3432 Q 1894 3584 2278 3584 Q 2916 3584 3314 3078 Q 3713 2572 3713 1747 Q 3713 922 3314 415 Q 2916 -91 2278 -91 Q 1894 -91 1617 61 Q 1341 213 1159 525 L 1159 0 L 581 0 L 581 4863 L 1159 4863 L 1159 2969 z
" transform="scale(0.015625)"/>
</defs>
<use href="#DejaVuSans-41"/>
<use href="#DejaVuSans-6e" transform="translate(68.408203 0)"/>
<use href="#DejaVuSans-74" transform="translate(131.787109 0)"/>
<use href="#DejaVuSans-65" transform="translate(170.996094 0)"/>
<use href="#DejaVuSans-6e" transform="translate(232.519531 0)"/>
<use href="#DejaVuSans-6e" transform="translate(295.898438 0)"/>
<use href="#DejaVuSans-61" transform="translate(359.277344 0)"/>
<use href="#DejaVuSans-20" transform="translate(420.556641 0)"/>
<use href="#DejaVuSans-50" transform="translate(452.34375 0)"/>
<use href="#DejaVuSans-68" transform="translate(512.646484 0)"/>
<use href="#DejaVuSans-61" transform="translate(576.025391 0)"/>
<use href="#DejaVuSans-73" transform="translate(637.304688 0)"/>
<use href="#DejaVuSans-65" transform="translate(689.404297 0)"/>
<use href="#DejaVuSans-20" transform="translate(750.927734 0)"/>
<use href="#DejaVuSans-42" transform="translate(782.714844 0)"/>
<use href="#DejaVuSans-69" transform="translate(851.318359 0)"/>
<use href="#DejaVuSans-61" transform="translate(879.101562 0)"/>
<use href="#DejaVuSans-73" transform="translate(940.380859 0)"/>
<use href="#DejaVuSans-65" transform="translate(992.480469 0)"/>
<use href="#DejaVuSans-73" transform="translate(1054.003906 0)"/>
<use href="#DejaVuSans-3a" transform="translate(1106.103516 0)"/>
<use href="#DejaVuSans-20" transform="translate(1139.794922 0)"/>
<use href="#DejaVuSans-42" transform="translate(1171.582031 0)"/>
<use href="#DejaVuSans-65" transform="translate(1240.185547 0)"/>
<use href="#DejaVuSans-69" transform="translate(1301.708984 0)"/>
<use href="#DejaVuSans-44" transform="translate(1329.492188 0)"/>
<use href="#DejaVuSans-4f" transform="translate(1406.494141 0)"/>
<use href="#DejaVuSans-55" transform="translate(1485.205078 0)"/>
<use href="#DejaVuSans-2d" transform="translate(1558.398438 0)"/>
<use href="#DejaVuSans-45" transform="translate(1594.482422 0)"/>
<use href="#DejaVuSans-35" transform="translate(1657.666016 0)"/>
<use href="#DejaVuSans-62" transform="translate(1721.289062 0)"/>
</g>
</g>
</g>
<g id="text_23">
<!-- HITAT45101CP    HITZ -->
<g transform="translate(222.4187 17.5421) scale(0.12 -0.12)">
<defs>
<path id="DejaVuSans-48" d="M 628 4666 L 1259 4666 L 1259 2753 L 3553 2753 L 3553 4666 L 4184 4666 L 4184 0 L 3553 0 L 3553 2222 L 1259 2222 L 1259 0 L 628 0 L 628 4666 z
" transform="scale(0.015625)"/>
<path id="DejaVuSans-49" d="M 628 4666 L 1259 4666 L 1259 0 L 628 0 L 628 4666 z
" transform="scale(0.015625)"/>
<path id="DejaVuSans-54" d="M -19 4666 L 3928 4666 L 3928 4134 L 2272 4134 L 2272 0 L 1638 0 L 1638 4134 L -19 4134 L -19 4666 z
" transform="scale(0.015625)"/>
<path id="DejaVuSans-43" d="M 4122 4306 L 4122 3641 Q 3803 3938 3442 4084 Q 3081 4231 2675 4231 Q 1875 4231 1450 3742 Q 1025 3253 1025 2328 Q 1025 1406 1450 917 Q 1875 428 2675 428 Q 3081 428 3442 575 Q 3803 722 4122 1019 L 4122 359 Q 3791 134 3420 21 Q 3050 -91 2638 -91 Q 1578 -91 968 557 Q 359 1206 359 2328 Q 359 3453 968 4101 Q 1578 4750 2638 4750 Q 3056 4750 3426 4639 Q 3797 4528 4122 4306 z
" transform="scale(0.015625)"/>
<path id="DejaVuSans-5a" d="M 359 4666 L 4025 4666 L 4025 4184 L 1075 531 L 4097 531 L 4097 0 L 288 0 L 288 481 L 3238 4134 L 359 4134 L 359 4666 z
" transform="scale(0.015625)"/>
</defs>
<use href="#DejaVuSans-48"/>
<use href="#DejaVuSans-49" transform="translate(75.195312 0)"/>
<use href="#DejaVuSans-54" transform="translate(104.6875 0)"/>
<use href="#DejaVuSans-41" transform="translate(158.021484 0)"/>
<use href="#DejaVuSans-54" transform="translate(218.679688 0)"/>
<use href="#DejaVuSans-34" transform="translate(279.763672 0)"/>
<use href="#DejaVuSans-35" transform="translate(343.386719 0)"/>
<use href="#DejaVuSans-31" transform="translate(407.009766 0)"/>
<use href="#DejaVuSans-30" transform="translate(470.632812 0)"/>
<use href="#DejaVuSans-31" transform="translate(534.255859 0)"/>
<use href="#DejaVuSans-43" transform="translate(597.878906 0)"/>
<use href="#DejaVuSans-50" transform="translate(667.703125 0)"/>
<use href="#DejaVuSans-20" transform="translate(728.005859 0)"/>
<use href="#DejaVuSans-20" transform="translate(759.792969 0)"/>
<use href="#DejaVuSans-20" transform="translate(791.580078 0)"/>
<use href="#DejaVuSans-20" transform="translate(823.367188 0)"/>
<use href="#DejaVuSans-48" transform="translate(855.154297 0)"/>
<use href="#DejaVuSans-49" transform="translate(930.349609 0)"/>
<use href="#DejaVuSans-54" transform="translate(959.841797 0)"/>
<use href="#DejaVuSans-5a" transform="translate(1020.925781 0)"/>
</g>
</g>
</g>
<defs>
<clipPath id="p4308238263">
<rect x="72" y="51.84" width="446.4" height="332.64"/>
</clipPath>
</defs>
</svg>

</body></html>
